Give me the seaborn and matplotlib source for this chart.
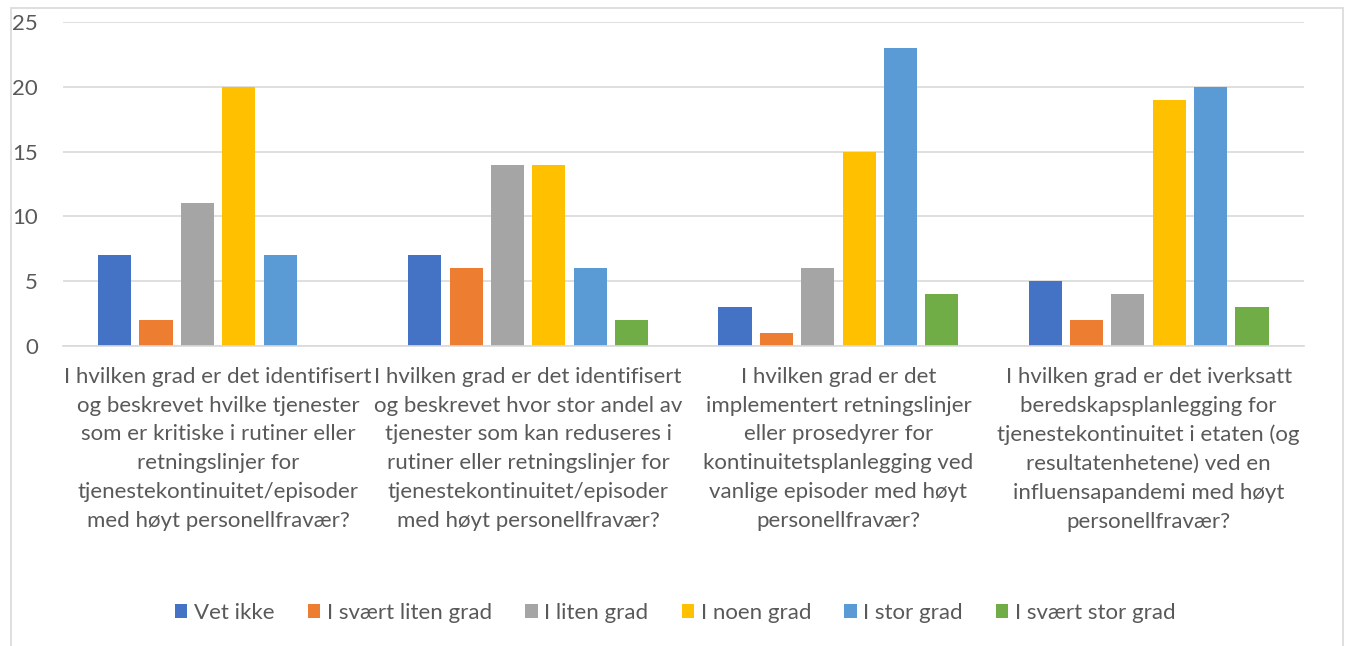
import pandas as pd
import numpy as np
import matplotlib
from matplotlib import pyplot as plt
import seaborn as sns

# spørsmål (kategorier) og svaralternativer
questions = [
    "I hvilken grad er det identifisert\nog beskrevet hvilke tjenester\nsom er kritiske i rutiner eller\nretningslinjer for\ntjenestekontinuitet/episoder\nmed høyt personellfravær?",
    "I hvilken grad er det identifisert\nog beskrevet hvor stor andel av\ntjenester som kan reduseres i\nrutiner eller retningslinjer for\ntjenestekontinuitet/episoder\nmed høyt personellfravær?",
    "I hvilken grad er det\nimplementert retningslinjer\neller prosedyrer for\nkontinuitetsplanlegging ved\nvanlige episoder med høyt\npersonellfravær?",
    "I hvilken grad er det iverksatt\nberedskapsplanlegging for\ntjenestekontinuitet i etaten (og\nresultatenhetene) ved en\ninfluensapandemi med høyt\npersonellfravær?",
]
answers = ["Vet ikke", "I svært liten grad", "I liten grad", "I noen grad", "I stor grad", "I svært stor grad"]

vet_ikke = [7, 7, 3, 5]
svaert_liten = [2, 6, 1, 2]
liten = [11, 14, 6, 4]
noen = [20, 14, 15, 19]
stor = [7, 6, 23, 20]
svaert_stor = [0, 2, 4, 3]

colors = ["#4472C4", "#ED7D31", "#A5A5A5", "#FFC000", "#5B9BD5", "#70AD47"]

series = [vet_ikke, svaert_liten, liten, noen, stor, svaert_stor]
rows = []
for a, vals in zip(answers, series):
    for q, v in zip(questions, vals):
        rows.append({"spm": q, "svar": a, "antall": v})
df = pd.DataFrame(rows)

plt.rcParams['font.family'] = ['Lato', 'DejaVu Sans']
txt = "#595959"

fig = plt.figure(figsize=(13.51, 6.46), dpi=100)
ax = fig.add_axes([0.0466, 0.4644, 0.9184, 0.5016])

sns.barplot(data=df, x="spm", y="antall", hue="svar", hue_order=answers, order=questions,
            palette=colors, saturation=1, width=0.8, gap=0.2, ax=ax, legend=True)

ax.set_ylim(0, 25)
ax.set_yticks([0, 5, 10, 15, 20, 25])
ax.yaxis.grid(True, color="#D9D9D9", linewidth=1.2)
ax.set_axisbelow(True)
for s in ["top", "right", "left"]:
    ax.spines[s].set_visible(False)
ax.spines["bottom"].set_color("#D9D9D9")
ax.spines["bottom"].set_linewidth(1.2)
ax.tick_params(axis="both", length=0, colors=txt, labelsize=16)
ax.tick_params(axis="x", pad=15)
ax.tick_params(axis="y", pad=18)
for lbl in ax.get_xticklabels():
    lbl.set_linespacing(1.55)
ax.set_xlabel("")
ax.set_ylabel("")
ax.set_xlim(-0.5, 3.5)

ax.get_legend().remove()
handles, labels = ax.get_legend_handles_labels()
fig.legend(handles, labels, loc="center", bbox_to_anchor=(0.5, 1 - 613 / 646), ncol=6, frameon=False,
           fontsize=16, labelcolor=txt, handlelength=0.55, handleheight=0.55,
           handletextpad=0.3, columnspacing=1.5)

fig.patches.append(plt.Rectangle((11 / 1351, -0.01), (1343 - 11) / 1351, 1 - 8 / 646 + 0.01,
                                 transform=fig.transFigure, fill=False, edgecolor="#D9D9D9", linewidth=1.2))

fig.savefig("out.png", dpi=100)
